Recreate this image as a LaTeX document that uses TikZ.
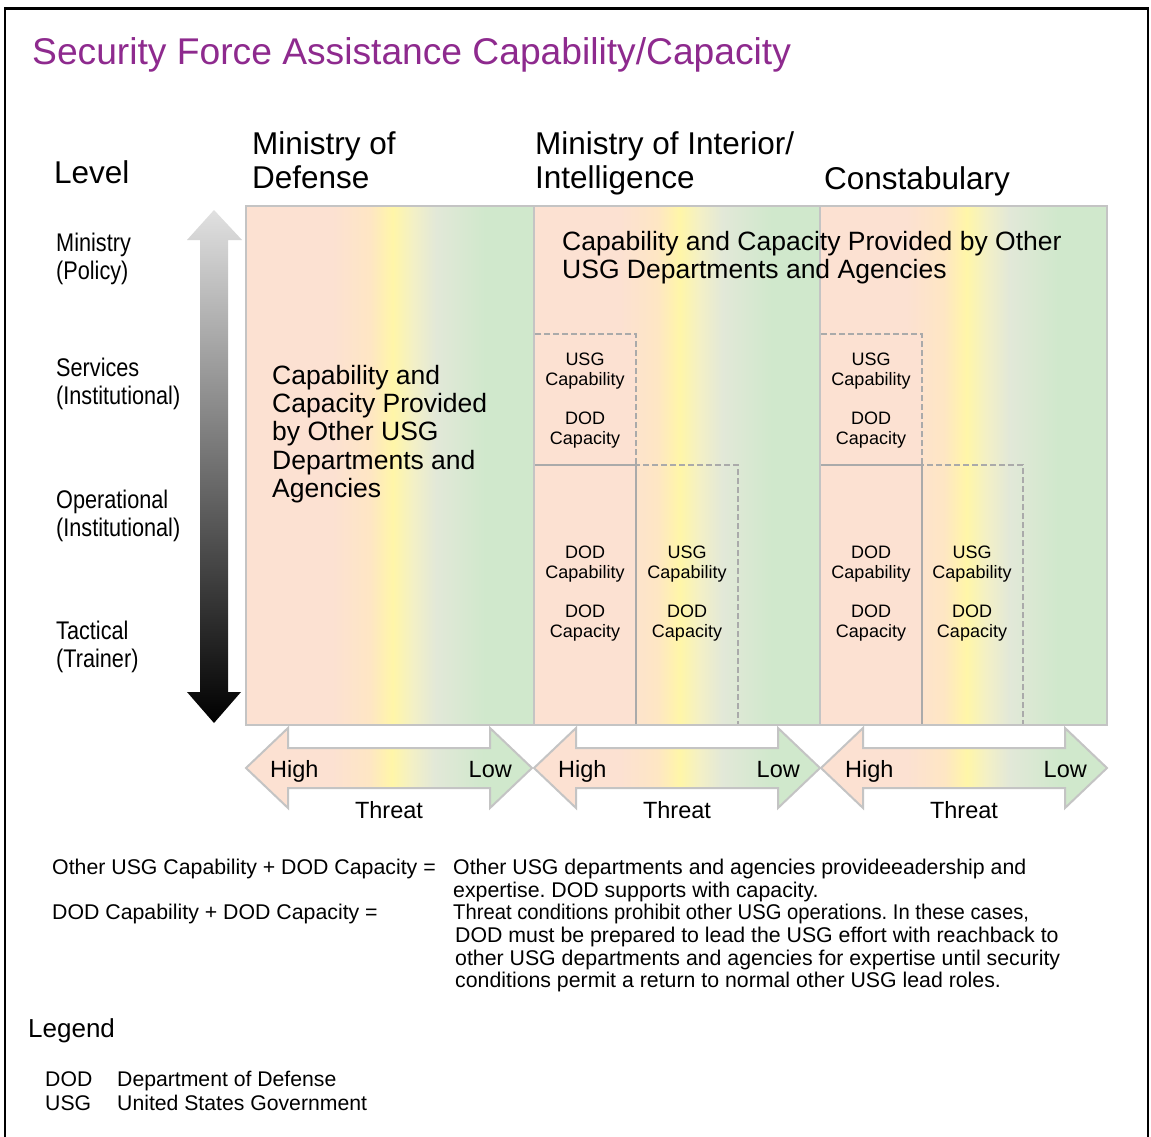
\documentclass[tikz,border=0pt]{standalone}
\usepackage{fontspec}
\setmainfont{Liberation Sans}
\newfontfamily\narrowfont[FakeStretch=0.85]{Liberation Sans}
\newcommand\myfs[2]{\fontsize{#1}{#2}\selectfont}
\frenchspacing
\definecolor{cpeach}{RGB}{252,225,210}
\definecolor{corange}{RGB}{254,230,196}
\definecolor{cyellow}{RGB}{255,246,168}
\definecolor{clyellow}{RGB}{243,240,198}
\definecolor{cgraygreen}{RGB}{226,232,216}
\definecolor{cgreen}{RGB}{208,232,204}
\definecolor{cbord}{RGB}{196,196,196}
\definecolor{cdash}{RGB}{170,170,170}
\definecolor{ctitle}{RGB}{142,42,142}
\pgfdeclarehorizontalshading{threatgrad}{100bp}{color(0bp)=(cpeach); color(40bp)=(cpeach); color(46.5bp)=(corange); color(50.5bp)=(cyellow); color(54bp)=(clyellow); color(58bp)=(cgraygreen); color(66.5bp)=(cgreen); color(100bp)=(cgreen)}
\tikzset{
  lbl/.style={inner sep=0pt, anchor=base west},
  blk/.style={inner sep=0pt, anchor=north west, align=left},
  boxtxt/.style={inner sep=0pt, anchor=north, align=center, font=\myfs{18}{20}},
  levellbl/.style={inner sep=0pt, anchor=north west, align=left, font=\narrowfont\myfs{25.5}{28}},
  dashbox/.style={draw=cdash, line width=2.5pt, dash pattern=on 6pt off 3pt},
  solidbox/.style={draw=cdash, line width=2pt, fill=cpeach},
  threatarrow/.style={shading=threatgrad, draw=cbord, line width=2pt},
  arrowlbl/.style={inner sep=0pt, font=\myfs{23.5}{26}},
}
\begin{document}
\begin{tikzpicture}[x=1pt,y=-1pt]
\useasboundingbox (0,0) rectangle (1151,1137);
\fill[white] (0,0) rectangle (1151,1137);
% frame
\draw[line width=2.5pt] (5,1137) -- (5,8.5) -- (1148,8.5) -- (1148,1137);
% title
\node[lbl, text=ctitle, font=\myfs{37.2}{40}] (title) at (32,65) {Security Force Assistance Capability/Capacity};
% headers
\node[lbl, font=\myfs{31.5}{34}] (level) at (54,183) {Level};
\node[blk, font=\myfs{31.5}{34}] (mod) at (252,131) {Ministry of\\Defense};
\node[blk, font=\myfs{31.5}{34}] (moi) at (535,131) {Ministry of Interior/\\Intelligence};
\node[lbl, font=\myfs{31.5}{34}] (const) at (824,189) {Constabulary};
% level arrow
\shade[top color=black!12, bottom color=black] (214,210) -- (242,240) -- (228,240) -- (228,692) -- (241,692) -- (214,723) -- (187,692) -- (200,692) -- (200,240) -- (187,240) -- cycle;
% level labels
\node[levellbl] (l1) at (56,233) {Ministry\\(Policy)};
\node[levellbl] (l2) at (56,358) {Services\\(Institutional)};
\node[levellbl] (l3) at (56,490) {Operational\\(Institutional)};
\node[levellbl] (l4) at (56,621) {Tactical\\(Trainer)};
% column fills
\shade[shading=threatgrad] (246,206) rectangle (534,725);
\shade[shading=threatgrad] (534,206) rectangle (820,725);
\shade[shading=threatgrad] (820,206) rectangle (1107,725);
% column 2 boxes
\fill[cpeach] (534,334) rectangle (636,465);
\draw[dashbox] (534,334) rectangle (636,465);
\draw[dashbox] (636,465) rectangle (738,725);
\draw[solidbox] (534,465) rectangle (636,725);
% column 3 boxes
\fill[cpeach] (820,334) rectangle (922,465);
\draw[dashbox] (820,334) rectangle (922,465);
\draw[dashbox] (922,465) rectangle (1023,725);
\draw[solidbox] (820,465) rectangle (922,725);
% outer border and dividers
\draw[cbord, line width=2pt] (246,206) rectangle (1107,725);
\draw[cbord, line width=2pt] (534,206) -- (534,725);
\draw[cbord, line width=2pt] (820,206) -- (820,725);
% column texts
\node[blk, font=\myfs{26.5}{28.2}] (c1txt) at (272,365) {Capability and\\Capacity Provided\\by Other USG\\Departments and\\Agencies};
\node[blk, font=\myfs{26.5}{28}] (c23txt) at (562,231) {Capability and Capacity Provided by Other\\USG Departments and Agencies};
\node[boxtxt] (b2a) at (585,353) {USG\\Capability\\[19pt]DOD\\Capacity};
\node[boxtxt] (b2b) at (585,546) {DOD\\Capability\\[19pt]DOD\\Capacity};
\node[boxtxt] (b2c) at (687,546) {USG\\Capability\\[19pt]DOD\\Capacity};
\node[boxtxt] (b3a) at (871,353) {USG\\Capability\\[19pt]DOD\\Capacity};
\node[boxtxt] (b3b) at (871,546) {DOD\\Capability\\[19pt]DOD\\Capacity};
\node[boxtxt] (b3c) at (972,546) {USG\\Capability\\[19pt]DOD\\Capacity};
% threat arrows
\foreach \L/\R/\n in {246/532/1, 534/820/2, 821/1107/3}{
  \path[threatarrow] (\L,768) -- (\L+42,728) -- (\L+42,748) -- (\R-42,748) -- (\R-42,728) -- (\R,768) -- (\R-42,808) -- (\R-42,788) -- (\L+42,788) -- (\L+42,808) -- cycle;
  \node[arrowlbl, anchor=base west] (high\n) at (\L+24,777) {High};
  \node[arrowlbl, anchor=base east] (low\n) at (\R-20,777) {Low};
  \node[arrowlbl, anchor=base] (threat\n) at ({(\L+\R)/2},818) {Threat};
}
% explanation
\node[lbl, font=\myfs{21.3}{22.7}] (eq1) at (52,874) {Other USG Capability + DOD Capacity =};
\node[lbl, font=\myfs{21.3}{22.7}] (eq2) at (52,919) {DOD Capability + DOD Capacity =};
\node[blk, font=\myfs{21.3}{22.7}] (d1) at (453,859) {Other USG departments and agencies provideeadership and\\expertise. DOD supports with capacity.};
\node[blk, font=\myfs{21.3}{22.7}] (d2) at (453,904) {\scalebox{0.95}[1]{Threat conditions prohibit other USG operations. In these cases,}\\\hspace*{2pt}DOD must be prepared to lead the USG effort with reachback to\\\hspace*{2pt}other USG departments and agencies for expertise until security\\\hspace*{2pt}conditions permit a return to normal other USG lead roles.};
% legend
\node[lbl, font=\myfs{26}{28}] (legend) at (28,1037) {Legend};
\node[lbl, font=\myfs{21.2}{24}] (k1) at (45,1086) {DOD};
\node[lbl, font=\myfs{21.2}{24}] (v1) at (117,1086) {Department of Defense};
\node[lbl, font=\myfs{21.2}{24}] (k2) at (45,1110.5) {USG};
\node[lbl, font=\myfs{21.2}{24}] (v2) at (117,1110.5) {United States Government};
\end{tikzpicture}
\end{document}
